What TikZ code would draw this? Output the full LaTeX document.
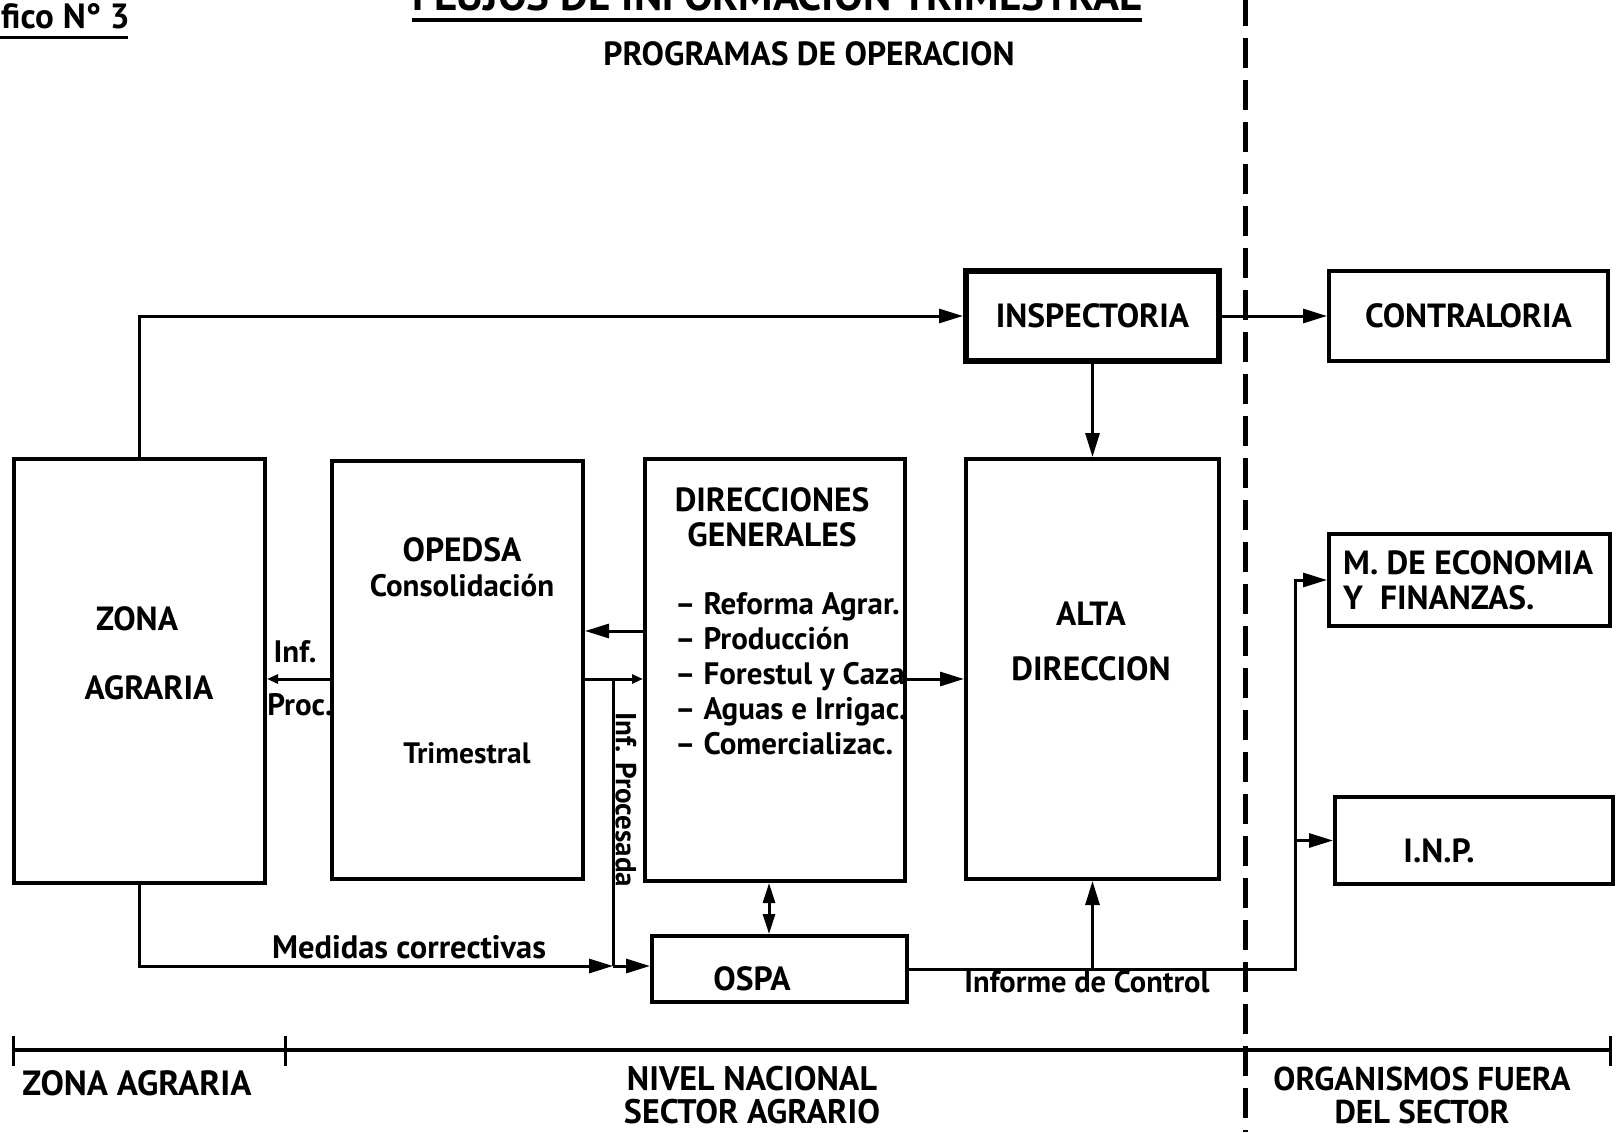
\documentclass[tikz,border=0pt]{standalone}
\usepackage{fontspec}
\setmainfont{PT Sans}
\usetikzlibrary{arrows.meta, positioning, calc}

\tikzstyle{caja} = [rectangle, draw, line width=4pt, inner sep=0pt, font=\fontsize{33.5}{38}\selectfont\bfseries]
\tikzstyle{texto} = [inner sep=0pt, font=\fontsize{31}{35}\selectfont\bfseries]
\tikzstyle{rotulo} = [inner sep=0pt, font=\fontsize{33.5}{35}\selectfont\bfseries]
\tikzstyle{flecha} = [line width=3pt, -{Triangle[length=24pt, width=14pt]}]
\tikzstyle{flechita} = [line width=3pt, -{Triangle[length=11pt, width=9pt]}]
\tikzstyle{linea} = [line width=3pt]

\begin{document}
\begin{tikzpicture}[x=1pt, y=-1pt]
    \useasboundingbox (0,0) rectangle (1616,1132);

    % Cajas
    \node (zona) [caja, minimum width=251pt, minimum height=424pt] at (139.5,671) {};
    \node (opedsa) [caja, minimum width=251pt, minimum height=418pt] at (457.5,670) {};
    \node (direc) [caja, minimum width=260pt, minimum height=422pt] at (775,670) {};
    \node (alta) [caja, minimum width=253pt, minimum height=420pt] at (1092.5,669) {};
    \node (insp) [caja, line width=6pt, minimum width=253pt, minimum height=90pt] at (1092.5,316) {INSPECTORIA};
    \node (contra) [caja, minimum width=279pt, minimum height=90pt] at (1468.5,316) {CONTRALORIA};
    \node (mef) [caja, minimum width=281pt, minimum height=92pt] at (1469.5,580) {};
    \node (inp) [caja, minimum width=278pt, minimum height=87pt] at (1474,840.5) {};
    \node (ospa) [caja, minimum width=255pt, minimum height=66pt] at (779.5,969) {};

    % Textos de las cajas
    \node (zonaA) [rotulo] at (137,619) {ZONA};
    \node (zonaB) [rotulo] at (149,688) {AGRARIA};
    \node (opedsaA) [texto, align=center] at (462,567) {\fontsize{33.5}{35}\selectfont OPEDSA\\Consolidación};
    \node (opedsaB) [texto, font=\fontsize{29.5}{35}\selectfont\bfseries] at (467,753) {Trimestral};
    \node (direcA) [rotulo, align=center] at (772,517) {DIRECCIONES\\GENERALES};
    \node (direcB) [texto, align=left, anchor=west] at (675,674) {-- Reforma Agrar.\\-- Producción\\-- Forestul y Caza\\-- Aguas e Irrigac.\\-- Comercializac.};
    \node (altaA) [rotulo, align=center] at (1091,641) {ALTA\\[20pt]DIRECCION};
    \node (mefA) [rotulo, align=left, anchor=west] at (1343,580) {M. DE ECONOMIA\\Y~~FINANZAS.};
    \node (inpA) [rotulo] at (1439,851) {I.N.P.};
    \node (ospaA) [rotulo] at (752,979) {OSPA};

    % Flujos
    \coordinate (j1) at (613,679);
    \coordinate (j2) at (613,966);
    \coordinate (j3) at (1295,969);
    \draw[flecha] (zona.north) |- (insp.west);
    \draw[flecha] (insp.east) -- (contra.west);
    \draw[flecha] (insp.south) -- (alta.north);
    \draw[flecha] (direc.west |- 0,631) -- (opedsa.east |- 0,631);
    \draw[flechita] (opedsa.east |- j1) -- (direc.west |- j1);
    \draw[flechita] (opedsa.west |- j1) -- (zona.east |- j1);
    \draw[flecha] (direc.east |- j1) -- (alta.west |- j1);
    \draw[linea] (j1) -- (j2);
    \draw[flecha] (zona.south) |- (j2);
    \draw[flecha] (j2) -- (ospa.west |- j2);
    \draw[line width=3pt, {Triangle[length=20pt, width=12pt]}-{Triangle[length=20pt, width=12pt]}] (769,0 |- direc.south) -- (769,0 |- ospa.north);
    \draw[flecha] (ospa.east) -| (j3 |- mef.west) -- (mef.west);
    \draw[flecha] (j3 |- inp.west) -- (inp.west);
    \draw[flecha] (alta.south |- j3) -- (alta.south);

    % Etiquetas
    \node (inf) [texto] at (295,652) {Inf.};
    \node (proc) [texto] at (300,705) {Proc.};
    \node (infp) [texto, font=\fontsize{29}{35}\selectfont\bfseries, rotate=-90] at (626,800) {Inf. Procesada};
    \node (medidas) [texto, font=\fontsize{32.5}{35}\selectfont\bfseries] at (409,947) {Medidas correctivas};
    \node (informe) [texto, font=\fontsize{30.5}{35}\selectfont\bfseries, anchor=north] at (1087,971) {Informe de Control};

    % Limites
    \draw[line width=5pt, dash pattern=on 30pt off 12pt] (1245,-4) -- (1245,1132);
    \draw[line width=4pt] (13,1050) -- (1610,1050);
    \foreach \x in {13,285,1610}
        \draw[line width=3pt] (\x,1036) -- (\x,1066);
    \node (lzona) [rotulo, font=\fontsize{35}{34}\selectfont\bfseries] at (137,1083) {ZONA AGRARIA};
    \node (lnivel) [rotulo, font=\fontsize{34}{33}\selectfont\bfseries, align=center] at (752,1095) {NIVEL NACIONAL\\SECTOR AGRARIO};
    \node (lorg) [rotulo, font=\fontsize{33}{33}\selectfont\bfseries, align=center] at (1422,1095) {ORGANISMOS FUERA\\DEL SECTOR};

    % Encabezado
    \node (grafico) [texto, font=\fontsize{35}{38}\selectfont\bfseries, anchor=base west] at (1,29) {fico N° 3};
    \draw[line width=3pt] (0,38) -- (128,38);
    \node (titulo) [texto, font=\fontsize{43}{46}\selectfont\bfseries, anchor=base] at (777,11) {FLUJOS DE INFORMACION TRIMESTRAL};
    \draw[line width=4pt] (412,20) -- (1142,20);
    \node (prog) [rotulo] at (809,54) {PROGRAMAS DE OPERACION};
\end{tikzpicture}
\end{document}
